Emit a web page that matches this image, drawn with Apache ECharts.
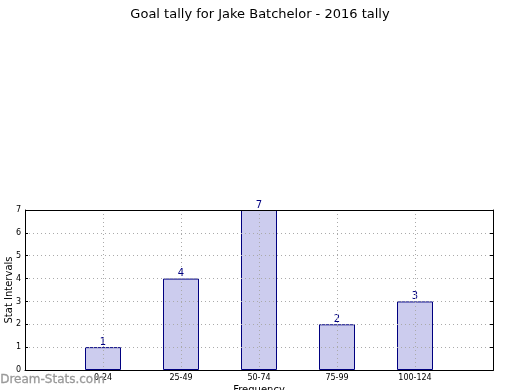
<!DOCTYPE html>
<html><head><meta charset="utf-8">
<script src="https://cdn.jsdelivr.net/npm/echarts@6/dist/echarts.min.js"></script>
<style>html,body{margin:0;padding:0;background:#fff}#c{width:520px;height:390px}</style>
</head><body><div id="c"></div>
<script>
const categories = ["0-24", "25-49", "50-74", "75-99", "100-124"];
const values = [1, 4, 7, 2, 3];
const yTicks = [0, 1, 2, 3, 4, 5, 6, 7];

const chart = echarts.init(document.getElementById('c'), null, {renderer: 'canvas'});
const data = values.map((v, i) => [i + 1, v]);
const font = 'DejaVu Sans';
const gridLine = {show: true, lineStyle: {color: '#aaa', type: [1, 3], width: 1}};
chart.setOption({
  animation: false,
  backgroundColor: '#fff',
  title: {
    text: 'Goal tally for Jake Batchelor - 2016 tally',
    left: 'center', top: 3,
    textStyle: {fontFamily: font, fontSize: 13, fontWeight: 'normal', color: '#000'}
  },
  grid: {left: 25, right: 27, top: 210, bottom: 20, show: false, containLabel: false, outerBoundsMode: 'none'},
  xAxis: {
    type: 'value', min: 0, max: 6, interval: 1, z: 10,
    name: 'Frequency', nameLocation: 'middle', nameGap: 15, nameMoveOverlap: false,
    nameTextStyle: {fontFamily: font, fontSize: 10, color: '#000'},
    axisLine: {show: true, lineStyle: {color: '#000', width: 1}},
    axisTick: {show: false},
    axisLabel: {fontFamily: font, fontSize: 8, color: '#000', margin: 4,
      formatter: v => (v >= 1 && v <= categories.length) ? categories[v - 1] : ''},
    splitLine: gridLine
  },
  yAxis: [{
    type: 'value', min: yTicks[0], max: yTicks[yTicks.length - 1], interval: 1, z: 10,
    name: 'Stat Intervals', nameLocation: 'middle', nameGap: 11, nameRotate: 90, nameMoveOverlap: false,
    nameTextStyle: {fontFamily: font, fontSize: 10, color: '#000'},
    axisLine: {show: true, lineStyle: {color: '#000', width: 1}},
    axisTick: {show: true, inside: true, length: 3, lineStyle: {color: '#000'}},
    axisLabel: {fontFamily: font, fontSize: 8, color: '#000', margin: 4},
    splitLine: gridLine
  }, {
    type: 'value', position: 'right', min: yTicks[0], max: yTicks[yTicks.length - 1], interval: 1, z: 10,
    axisLine: {show: true, lineStyle: {color: '#000', width: 1}},
    axisTick: {show: true, inside: true, length: 3, lineStyle: {color: '#000'}},
    axisLabel: {show: false},
    splitLine: {show: false}
  }],
  series: [{
    type: 'bar', data: data, barWidth: 36, z: 2, yAxisIndex: 0,
    itemStyle: {color: '#ccccee', borderColor: '#000080', borderWidth: 1},
    label: {show: true, position: 'top', distance: 0, fontFamily: font, fontSize: 10, color: '#000080'}
  }],
  graphic: [{
    type: 'text', left: 0, top: 374, z: 30,
    style: {text: 'Dream-Stats.com', font: '12px "DejaVu Sans"', fill: '#999', stroke: '#999', lineWidth: 0.3}
  }, {
    type: 'rect', shape: {x: 25.5, y: 210.5, width: 468, height: 160}, z: 20, silent: true,
    style: {fill: null, stroke: '#000', lineWidth: 1}
  }]
});
</script></body></html>
